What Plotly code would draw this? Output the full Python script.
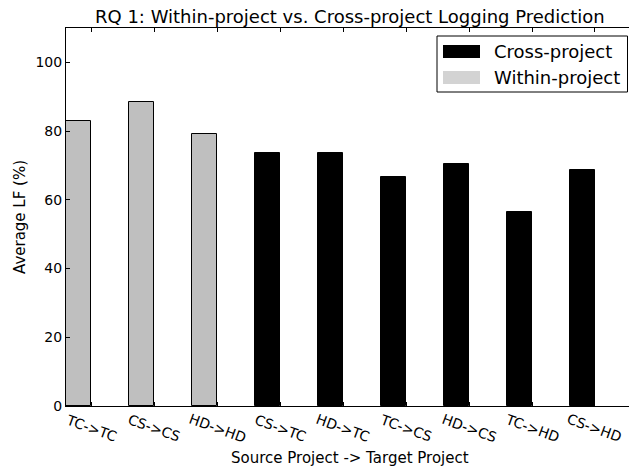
import plotly.graph_objects as go

# Average LF (%) per source -> target project pair
within_labels = ["TC->TC", "CS->CS", "HD->HD"]
within_values = [83.0, 88.6, 79.3]
cross_labels = ["CS->TC", "HD->TC", "TC->CS", "HD->CS", "TC->HD", "CS->HD"]
cross_values = [73.7, 73.7, 66.6, 70.5, 56.5, 68.7]
y_ticks = [0, 20, 40, 60, 80, 100]

bar_width = 0.4
all_labels = within_labels + cross_labels
within_x = list(range(len(within_labels)))
cross_x = [len(within_labels) + i for i in range(len(cross_labels))]
tick_pos = [i + bar_width for i in range(len(all_labels))]

FONT = "DejaVu Sans, Liberation Sans, sans-serif"

fig = go.Figure()
fig.add_trace(go.Bar(
    name="Within-project", x=within_x, y=within_values,
    width=bar_width, offset=0,
    marker=dict(color="#bfbfbf", line=dict(color="black", width=1)),
    showlegend=False,
))
fig.add_trace(go.Bar(
    name="Cross-project", x=cross_x, y=cross_values,
    width=bar_width, offset=0,
    marker=dict(color="black", line=dict(color="black", width=1)),
    showlegend=False,
))

# plot-area pixel helpers (paper coordinates)
pw, ph = 563.0, 378.0
def px(xp):
    return (xp - 66) / pw
def py(yp):
    return 1 - (yp - 28) / ph

# rotated category labels centred under each tick
annotations = []
for pos, lab in zip(tick_pos, all_labels):
    annotations.append(dict(
        x=pos, y=py(428), xref="x", yref="paper", text=lab,
        showarrow=False, textangle=20, xanchor="center", yanchor="middle",
        font=dict(family=FONT, size=14, color="black"),
    ))

# legend box
shapes = [
    dict(type="rect", xref="paper", yref="paper",
         x0=px(437), x1=px(627.5), y0=py(92), y1=py(36),
         line=dict(color="black", width=1), fillcolor="white", layer="above"),
    dict(type="rect", xref="paper", yref="paper",
         x0=px(443), x1=px(480), y0=py(58), y1=py(45),
         line=dict(width=0), fillcolor="black", layer="above"),
    dict(type="rect", xref="paper", yref="paper",
         x0=px(443), x1=px(480), y0=py(84), y1=py(71),
         line=dict(width=0), fillcolor="#d3d3d3", layer="above"),
]
for text, yc in [("Cross-project", 51.5), ("Within-project", 77.5)]:
    annotations.append(dict(
        x=px(492), y=py(yc), xref="paper", yref="paper", text=text,
        showarrow=False, xanchor="left", yanchor="middle",
        font=dict(family=FONT, size=18, color="black"),
    ))

# title and axis labels
annotations.append(dict(
    x=px(350), y=py(16), xref="paper", yref="paper",
    text="RQ 1: Within-project vs. Cross-project Logging Prediction",
    showarrow=False, xanchor="center", yanchor="middle",
    font=dict(family=FONT, size=18, color="black"),
))
annotations.append(dict(
    x=px(350), y=py(458), xref="paper", yref="paper",
    text="Source Project -> Target Project",
    showarrow=False, xanchor="center", yanchor="middle",
    font=dict(family=FONT, size=15, color="black"),
))
annotations.append(dict(
    x=px(20), y=py(217), xref="paper", yref="paper",
    text="Average LF (%)", textangle=-90,
    showarrow=False, xanchor="center", yanchor="middle",
    font=dict(family=FONT, size=15, color="black"),
))

fig.update_layout(
    width=629, height=470,
    margin=dict(l=66, r=0, t=28, b=64),
    paper_bgcolor="white", plot_bgcolor="white",
    font=dict(family=FONT, size=14, color="black"),
    shapes=shapes, annotations=annotations,
    showlegend=False, bargap=0,
)
fig.update_xaxes(
    range=[0, 8.94], tickvals=tick_pos, showticklabels=False,
    ticks="inside", ticklen=4, tickcolor="black",
    showline=True, linecolor="black", linewidth=1, mirror="ticks",
    showgrid=False, zeroline=False,
)
fig.update_yaxes(
    range=[0, 110], tickvals=y_ticks,
    ticks="inside", ticklen=4, tickcolor="black",
    showline=True, linecolor="black", linewidth=1, mirror=False,
    showgrid=False, zeroline=False,
    tickfont=dict(family=FONT, size=14, color="black"),
)

fig.write_html("out.html")
